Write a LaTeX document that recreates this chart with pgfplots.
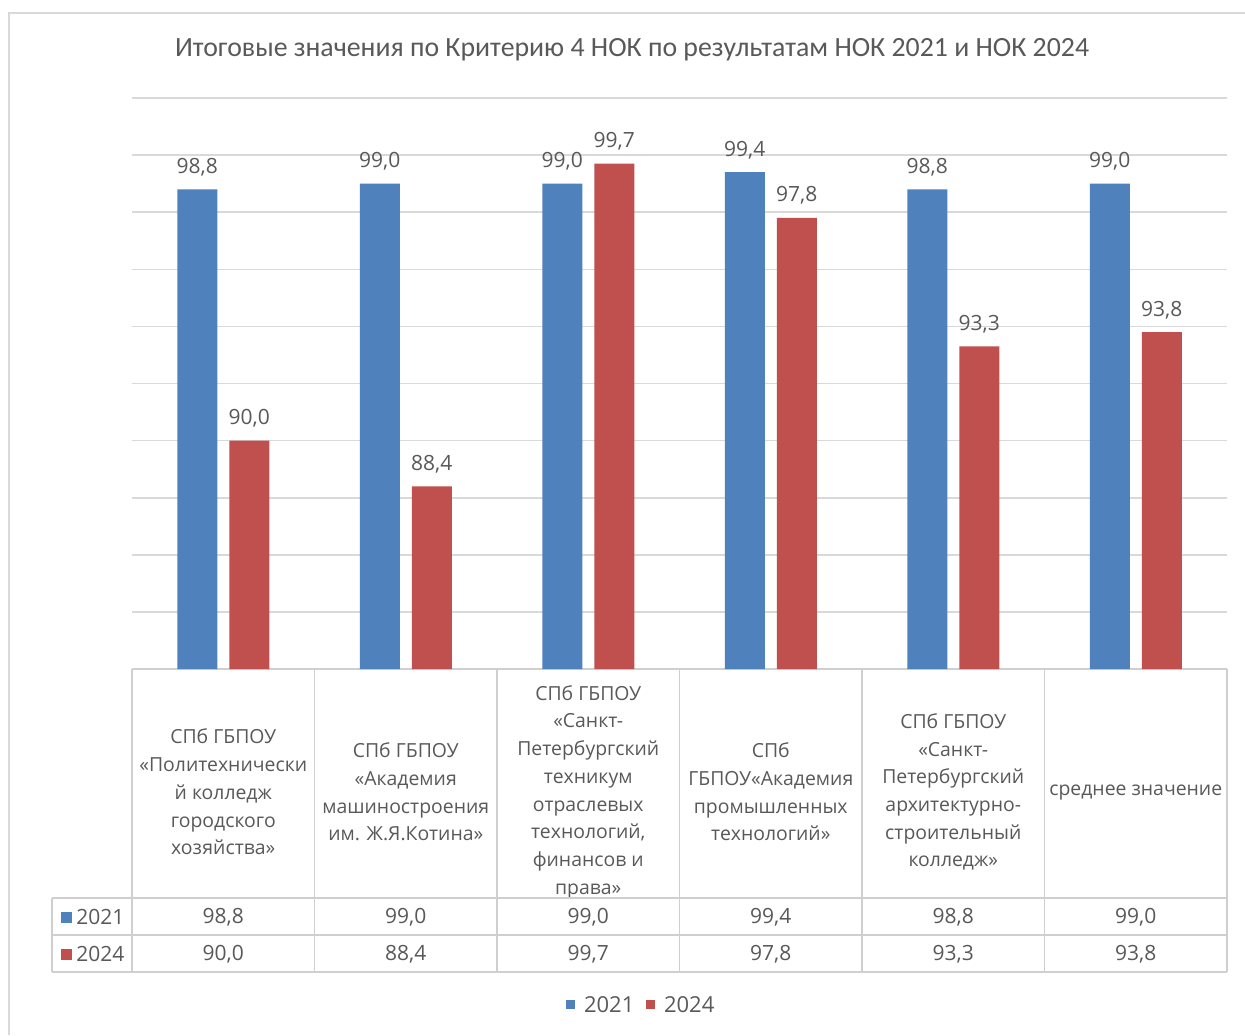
\documentclass[border=0pt]{standalone}
\usepackage{pgfplots}
\usepackage{pgfplotstable}
\pgfplotsset{compat=1.18}
\usepackage{fontspec}
\setmainfont{Open Sans}
\newfontfamily\titlefont{Carlito}
\definecolor{cblue}{HTML}{4F81BD}
\definecolor{cred}{HTML}{C0504D}
\definecolor{gridgray}{HTML}{D9D9D9}
\definecolor{txtgray}{HTML}{595959}
\definecolor{tblgray}{HTML}{CFCFCF}
\pgfkeys{/pgf/number format/assume math mode=true}

\pgfplotstableread{
x v2021 v2024
0 98.8 90.0
1 99.0 88.4
2 99.0 99.7
3 99.4 97.8
4 98.8 93.3
5 99.0 93.8
}\data

\begin{document}
\begin{tikzpicture}
\begin{scope}[x=0.5pt,y=0.5pt]
\useasboundingbox (0,0) rectangle (1245,1035);
\fill[white] (0,0) rectangle (1245,1035);
\draw[gridgray,line width=0.8pt] (9,0) -- (9,1022) -- (1245,1022);
\node[font=\titlefont\fontsize{13.9}{16}\selectfont,text=txtgray] at (632,985)
  {Итоговые значения по Критерию 4 НОК по результатам НОК 2021 и НОК 2024};
\end{scope}
\begin{axis}[
  at={(66pt,183pt)}, anchor=south west,
  width=547.5pt, height=285.5pt, scale only axis,
  ymin=82, ymax=102, ytick={84,86,...,102}, yticklabels={},
  ymajorgrids, major grid style={gridgray,line width=0.8pt},
  axis x line*=bottom, axis y line*=left,
  y axis line style={draw=none}, ytick style={draw=none},
  x axis line style={tblgray,line width=0.8pt,-},
  xmin=-0.5, xmax=5.5, xtick={0,...,5}, xtick style={draw=none},
  xticklabels={
    {СПб ГБПОУ\\«Политехнически\\й колледж\\городского\\хозяйства»},
    {СПб ГБПОУ\\«Академия\\машиностроения\\им. Ж.Я.Котина»},
    {СПб ГБПОУ\\«Санкт-\\Петербургский\\техникум\\отраслевых\\технологий,\\финансов и\\права»},
    {СПб\\ГБПОУ«Академия\\промышленных\\технологий»},
    {СПб ГБПОУ\\«Санкт-\\Петербургский\\архитектурно-\\строительный\\колледж»},
    {среднее значение}},
  xticklabel style={align=center, anchor=center, yshift=-57.25pt,
    font=\fontsize{9.7}{13.85}\selectfont, text=txtgray},
  ybar=6pt, bar width=20pt,
  nodes near coords={\pgfmathprintnumber[fixed,fixed zerofill,precision=1,use comma]{\pgfplotspointmeta}},
  every node near coord/.append style={font=\fontsize{10.5}{12}\selectfont, text=txtgray,
    anchor=base, inner sep=0pt, yshift=8pt},
  clip=false,
]
\addplot[fill=cblue, draw=none] table[x=x,y=v2021]{\data};
\addplot[fill=cred, draw=none] table[x=x,y=v2024]{\data};
\end{axis}
\begin{scope}[x=0.5pt,y=0.5pt]
\begin{scope}[tblgray,line width=0.8pt]
\draw (52,137) -- (1227,137);
\draw (52,100) -- (1227,100);
\draw (52,63) -- (1227,63);
\draw (52,137) -- (52,63);
\foreach \cx in {132,314.5,497,679.5,862,1044.5,1227} \draw (\cx,366) -- (\cx,63);
\end{scope}
\fill[cblue] (61,112) rectangle (72,123);
\node[anchor=west,inner sep=1pt,font=\fontsize{10.5}{12}\selectfont,text=txtgray] at (74,118) {2021};
\fill[cred] (61,75) rectangle (72,86);
\node[anchor=west,inner sep=1pt,font=\fontsize{10.5}{12}\selectfont,text=txtgray] at (74,81) {2024};
\foreach \i in {0,...,5}{
  \pgfplotstablegetelem{\i}{v2021}\of\data
  \let\va\pgfplotsretval
  \pgfplotstablegetelem{\i}{v2024}\of\data
  \let\vb\pgfplotsretval
  \pgfmathsetmacro\cx{223.25+182.5*\i}
  \node[font=\fontsize{10.5}{12}\selectfont,text=txtgray] at (\cx,118)
    {\pgfmathprintnumber[fixed,fixed zerofill,precision=1,use comma]{\va}};
  \node[font=\fontsize{10.5}{12}\selectfont,text=txtgray] at (\cx,81)
    {\pgfmathprintnumber[fixed,fixed zerofill,precision=1,use comma]{\vb}};
}
\fill[cblue] (566,26) rectangle (575,35);
\node[anchor=west,font=\fontsize{11}{13}\selectfont,text=txtgray] at (577,30) {2021};
\fill[cred] (646,26) rectangle (655,35);
\node[anchor=west,font=\fontsize{11}{13}\selectfont,text=txtgray] at (657,30) {2024};
\end{scope}
\end{tikzpicture}
\end{document}
